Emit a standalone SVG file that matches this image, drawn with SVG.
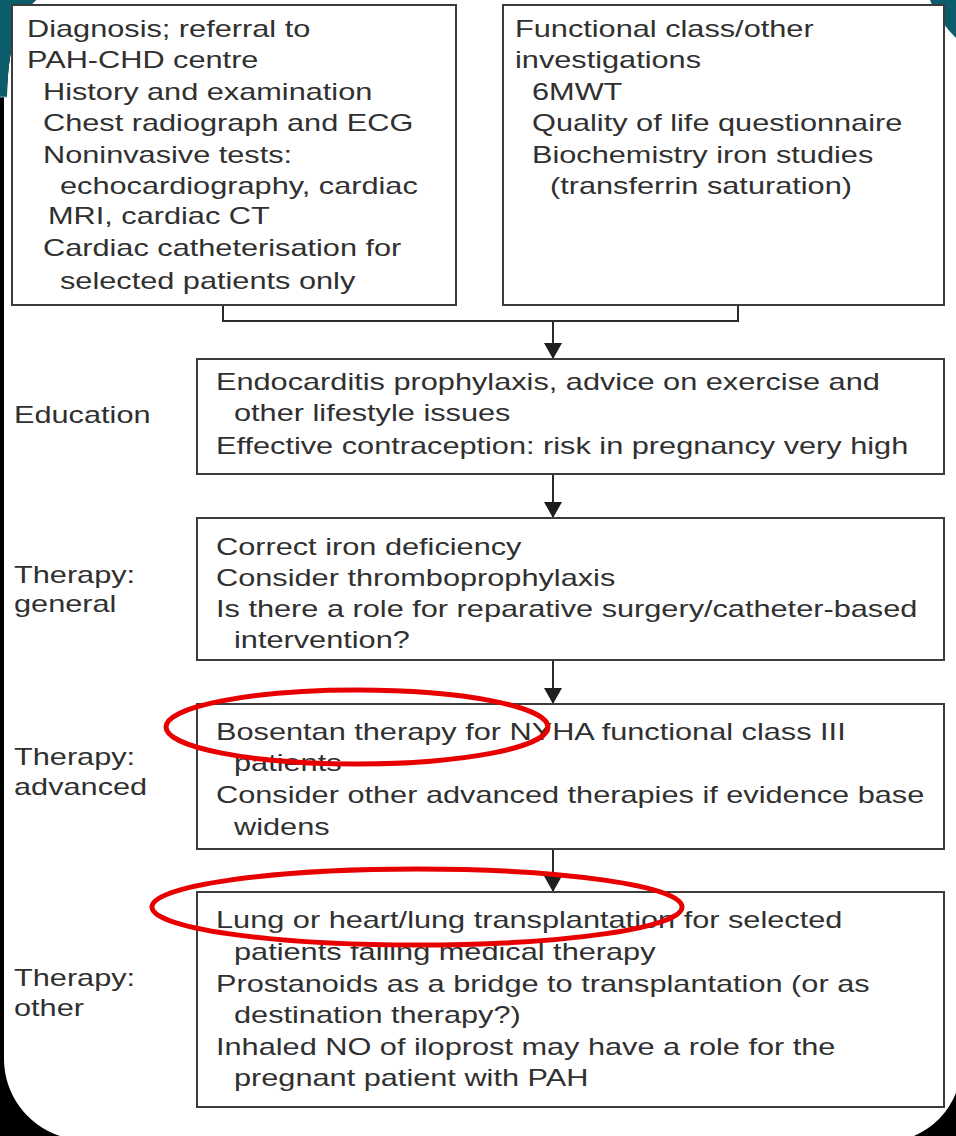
<svg xmlns="http://www.w3.org/2000/svg" width="956" height="1136" viewBox="0 0 956 1136">
<style>
.t{font-family:"Liberation Sans",Arial,sans-serif;font-size:24px;fill:#303030}
.box{fill:#fff;stroke:#3c3c3c;stroke-width:2}
.con{fill:none;stroke:#2a2a2a;stroke-width:2}
.ring{fill:none;stroke:#e80000;stroke-width:5}
</style>
<defs>
<marker id="ah" viewBox="0 0 16 18" refX="16" refY="9" markerWidth="16" markerHeight="18" orient="auto" markerUnits="userSpaceOnUse"><path d="M0,0 L16,9 L0,18 Z" fill="#1e1e1e"/></marker>
</defs>
<g id="background">
<rect x="0" y="0" width="956" height="1136" fill="#000"/>
<path d="M36,0 H956 V1093 A81,81 0 0 1 914,1136 H60 A81,81 0 0 1 4,1059 V97 H7 C8,50 16,18 36,0 Z" fill="#fff"/>
<path d="M0,0 H36 C16,18 8,50 7,97 H0 Z" fill="#0b5d6b"/>
<line x1="0" y1="97" x2="7" y2="97" stroke="#7fb3bb" stroke-width="1"/>
<path d="M930,0 H956 V38 C946,28 936,15 930,0 Z" fill="#0b5d6b"/>
</g>
<g id="connectors">
<path class="con" d="M223,306 V321 H738 V306"/>
<path class="con" d="M553,321 V359" marker-end="url(#ah)"/>
<path class="con" d="M553,474 V518" marker-end="url(#ah)"/>
<path class="con" d="M553,660 V704" marker-end="url(#ah)"/>
<path class="con" d="M553,849 V892" marker-end="url(#ah)"/>
</g>
<g id="diagnosis">
<rect class="box" x="12" y="5" width="444" height="300"/>
<text class="t" transform="translate(27,37) scale(1.28,1)">Diagnosis; referral to</text>
<text class="t" transform="translate(27,68) scale(1.28,1)">PAH-CHD centre</text>
<text class="t" transform="translate(43,100) scale(1.28,1)">History and examination</text>
<text class="t" transform="translate(43,131) scale(1.28,1)">Chest radiograph and ECG</text>
<text class="t" transform="translate(43,163) scale(1.28,1)">Noninvasive tests:</text>
<text class="t" transform="translate(60,194) scale(1.28,1)">echocardiography, cardiac</text>
<text class="t" transform="translate(48,224) scale(1.28,1)">MRI, cardiac CT</text>
<text class="t" transform="translate(43,256) scale(1.28,1)">Cardiac catheterisation for</text>
<text class="t" transform="translate(60,289) scale(1.28,1)">selected patients only</text>
</g>
<g id="functional">
<rect class="box" x="503" y="5" width="441" height="300"/>
<text class="t" transform="translate(515,37) scale(1.28,1)">Functional class/other</text>
<text class="t" transform="translate(515,68) scale(1.28,1)">investigations</text>
<text class="t" transform="translate(532,100) scale(1.28,1)">6MWT</text>
<text class="t" transform="translate(532,131) scale(1.28,1)">Quality of life questionnaire</text>
<text class="t" transform="translate(532,163) scale(1.28,1)">Biochemistry iron studies</text>
<text class="t" transform="translate(550,194) scale(1.28,1)">(transferrin saturation)</text>
</g>
<g id="education">
<text class="t" transform="translate(14,423) scale(1.28,1)">Education</text>
<rect class="box" x="197" y="359" width="747" height="115"/>
<text class="t" transform="translate(216,390) scale(1.28,1)">Endocarditis prophylaxis, advice on exercise and</text>
<text class="t" transform="translate(234,421) scale(1.28,1)">other lifestyle issues</text>
<text class="t" transform="translate(216,454) scale(1.28,1)">Effective contraception: risk in pregnancy very high</text>
</g>
<g id="therapy-general">
<text class="t" transform="translate(14,583) scale(1.28,1)">Therapy:</text>
<text class="t" transform="translate(14,612) scale(1.28,1)">general</text>
<rect class="box" x="197" y="518" width="747" height="142"/>
<text class="t" transform="translate(216,555) scale(1.28,1)">Correct iron deficiency</text>
<text class="t" transform="translate(216,586) scale(1.28,1)">Consider thromboprophylaxis</text>
<text class="t" transform="translate(216,617) scale(1.28,1)">Is there a role for reparative surgery/catheter-based</text>
<text class="t" transform="translate(234,648) scale(1.28,1)">intervention?</text>
</g>
<g id="therapy-advanced">
<text class="t" transform="translate(14,765) scale(1.28,1)">Therapy:</text>
<text class="t" transform="translate(14,795) scale(1.28,1)">advanced</text>
<rect class="box" x="197" y="704" width="747" height="145"/>
<text class="t" transform="translate(216,740) scale(1.28,1)">Bosentan therapy for NYHA functional class III</text>
<text class="t" transform="translate(234,771) scale(1.28,1)">patients</text>
<text class="t" transform="translate(216,803) scale(1.28,1)">Consider other advanced therapies if evidence base</text>
<text class="t" transform="translate(234,835) scale(1.28,1)">widens</text>
</g>
<g id="therapy-other">
<text class="t" transform="translate(14,986) scale(1.28,1)">Therapy:</text>
<text class="t" transform="translate(14,1016) scale(1.28,1)">other</text>
<rect class="box" x="197" y="892" width="747" height="215"/>
<text class="t" transform="translate(216,928) scale(1.28,1)">Lung or heart/lung transplantation for selected</text>
<text class="t" transform="translate(234,960) scale(1.28,1)">patients failing medical therapy</text>
<text class="t" transform="translate(216,992) scale(1.28,1)">Prostanoids as a bridge to transplantation (or as</text>
<text class="t" transform="translate(234,1023) scale(1.28,1)">destination therapy?)</text>
<text class="t" transform="translate(216,1055) scale(1.28,1)">Inhaled NO of iloprost may have a role for the</text>
<text class="t" transform="translate(234,1086) scale(1.28,1)">pregnant patient with PAH</text>
</g>
<g id="highlights">
<ellipse class="ring" cx="357" cy="727" rx="191" ry="37"/>
<ellipse class="ring" cx="417" cy="907" rx="265" ry="38"/>
</g>
</svg>
